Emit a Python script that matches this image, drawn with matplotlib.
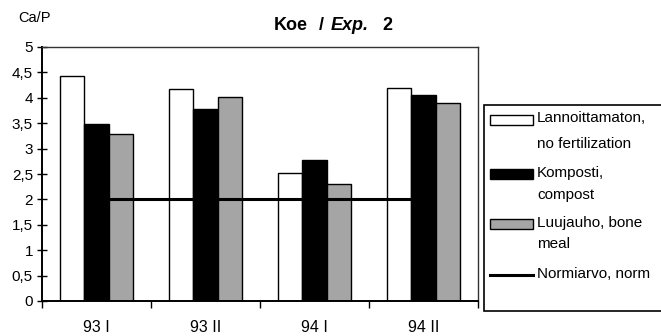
import matplotlib
matplotlib.use("Agg")
import matplotlib.pyplot as plt
import numpy as np
from matplotlib.patches import Rectangle
from matplotlib.lines import Line2D

plt.rcParams['font.family'] = ['Liberation Sans', 'DejaVu Sans']

# data
categories = ['93 I', '93 II', '94 I', '94 II']
lannoittamaton = [4.43, 4.17, 2.52, 4.19]
komposti = [3.48, 3.78, 2.77, 4.06]
luujauho = [3.29, 4.02, 2.30, 3.90]
normi = [2, 2, 2, 2]

labels = ['Lannoittamaton,\nno fertilization', 'Komposti,\ncompost',
          'Luujauho, bone\nmeal', 'Normiarvo, norm']
colors = ['white', 'black', '#a5a5a5']

W, H = 661, 336
fig = plt.figure(figsize=(W / 100, H / 100), dpi=100)
ax = fig.add_axes([42 / W, 1 - 301 / H, (478 - 42) / W, (301 - 47) / H])

x = np.arange(len(categories))
bw = 0.225
for i, vals in enumerate([lannoittamaton, komposti, luujauho]):
    ax.bar(x + (i - 1) * bw, vals, bw, color=colors[i], edgecolor='black',
           linewidth=1.0, zorder=2)
ax.plot(x, normi, color='black', linewidth=2.2, zorder=3)

ax.set_xlim(-0.5, len(categories) - 0.5)
ax.set_ylim(0, 5)
yt = np.arange(0, 5.01, 0.5)
ax.set_yticks(yt)
ax.set_yticklabels([('%g' % v).replace('.', ',') for v in yt], fontsize=11)
ax.tick_params(axis='y', direction='inout', length=7, width=1, pad=3)
ax.set_xticks(x)
ax.set_xticklabels(categories, fontsize=11.5)
ax.tick_params(axis='x', which='major', length=0, pad=14)
ax.set_xticks(np.arange(-0.5, len(categories), 1), minor=True)
ax.tick_params(axis='x', which='minor', direction='out', length=5, width=1)

for s in ['top', 'right']:
    ax.spines[s].set_linewidth(1.0)
    ax.spines[s].set_color('#333333')
for s in ['left', 'bottom']:
    ax.spines[s].set_linewidth(1.4)

fig.text(18 / W, 1 - 18 / H, 'Ca/P', fontsize=10.5, va='center', ha='left')

# title pieces (italic middle part)
for txt, px, st in [('Koe', 274, 'normal'), ('/', 319, 'normal'),
                    ('Exp.', 331, 'italic'), ('2', 382, 'normal')]:
    fig.text(px / W, 1 - 25 / H, txt, fontsize=13, fontweight='bold',
             style=st, va='center', ha='left')

# legend box
fig.patches.append(Rectangle((484 / W, 1 - 311 / H), (664 - 484) / W, (311 - 105) / H,
                             transform=fig.transFigure, facecolor='white',
                             edgecolor='black', linewidth=1.2))
line_y = [[117, 142], [171, 193], [221, 242], [272]]
for i, lab in enumerate(labels):
    yc = 1 - (line_y[i][0] + 3) / H
    if i < 3:
        fig.patches.append(Rectangle((490 / W, yc - 5 / H), 43 / W, 10 / H,
                                     transform=fig.transFigure, facecolor=colors[i],
                                     edgecolor='black', linewidth=1.0))
    else:
        fig.lines.append(Line2D([490 / W, 533 / W], [yc, yc], transform=fig.transFigure,
                                color='black', linewidth=2.2))
    for part, ly in zip(lab.split('\n'), line_y[i]):
        fig.text(537 / W, 1 - (ly + 5.5) / H, part, fontsize=11, va='baseline', ha='left')

fig.savefig('out.png', dpi=100)
